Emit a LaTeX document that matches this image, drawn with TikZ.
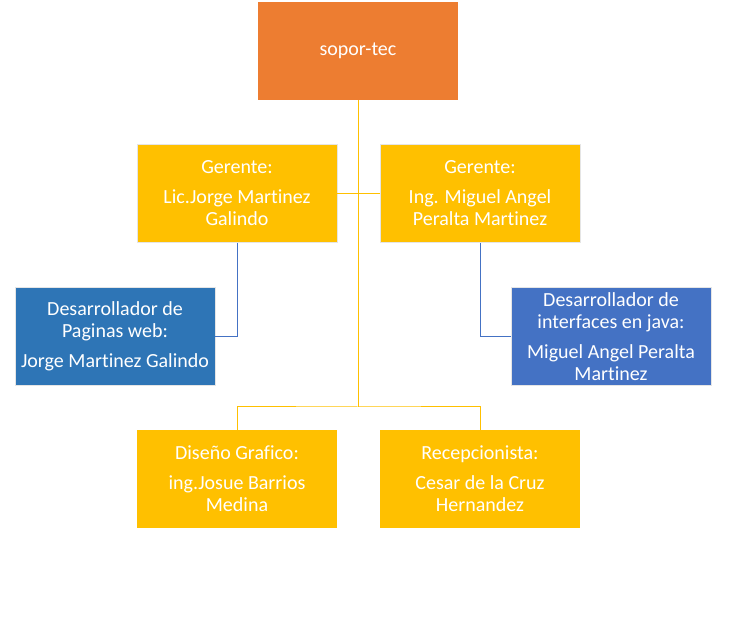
\documentclass[tikz,border=0pt]{standalone}
\usepackage{fontspec}
\setmainfont{Carlito}[Ligatures={NoCommon}]
\definecolor{orangeA}{HTML}{ED7D31}
\definecolor{goldA}{HTML}{FFC000}
\definecolor{blueA}{HTML}{2E75B6}
\definecolor{blueB}{HTML}{4472C4}
\begin{document}
\begin{tikzpicture}[x=0.75pt,y=-0.75pt,
  box/.style={minimum width=150pt, minimum height=73.5pt, inner sep=0pt, text=white,
    align=center, font=\fontsize{15}{16.5}\selectfont, draw=black!10, line width=0.6pt},
  goldbox/.style={box, fill=goldA},
  goldline/.style={draw=goldA, line width=0.75pt},
  blueline/.style={draw=blueB, line width=0.75pt}]
\useasboundingbox (0,0) rectangle (740,620);
\node[box, fill=orangeA, draw=none] (top) at (358,51) {sopor-tec};
\node[goldbox] (gerL) at (237,193.5) {Gerente:\\[6pt]Lic.Jorge Martinez\\Galindo};
\node[goldbox] (gerR) at (480,193.5) {Gerente:\\[6pt]Ing. Miguel Angel\\Peralta Martinez};
\node[box, fill=blueA] (devL) at (115,336.5) {Desarrollador de\\Paginas web:\\[6pt]Jorge Martinez Galindo};
\node[box, fill=blueB] (devR) at (611,336.5) {Desarrollador de\\interfaces en java:\\[6pt]Miguel Angel Peralta\\Martinez};
\node[goldbox, draw=none] (dis) at (237,479) {Diseño Grafico:\\[6pt]ing.Josue Barrios\\Medina};
\node[goldbox, draw=none] (rec) at (480,479) {Recepcionista:\\[6pt]Cesar de la Cruz\\Hernandez};
\coordinate (bus) at (358,407);
\draw[goldline] (top.south) -- (bus);
\draw[goldline] (gerL.east) -- (gerR.west);
\draw[goldline] (dis.north) |- (bus) -| (rec.north);
\draw[blueline] (gerL.south) |- (devL.east);
\draw[blueline] (gerR.south) |- (devR.west);
\end{tikzpicture}
\end{document}
